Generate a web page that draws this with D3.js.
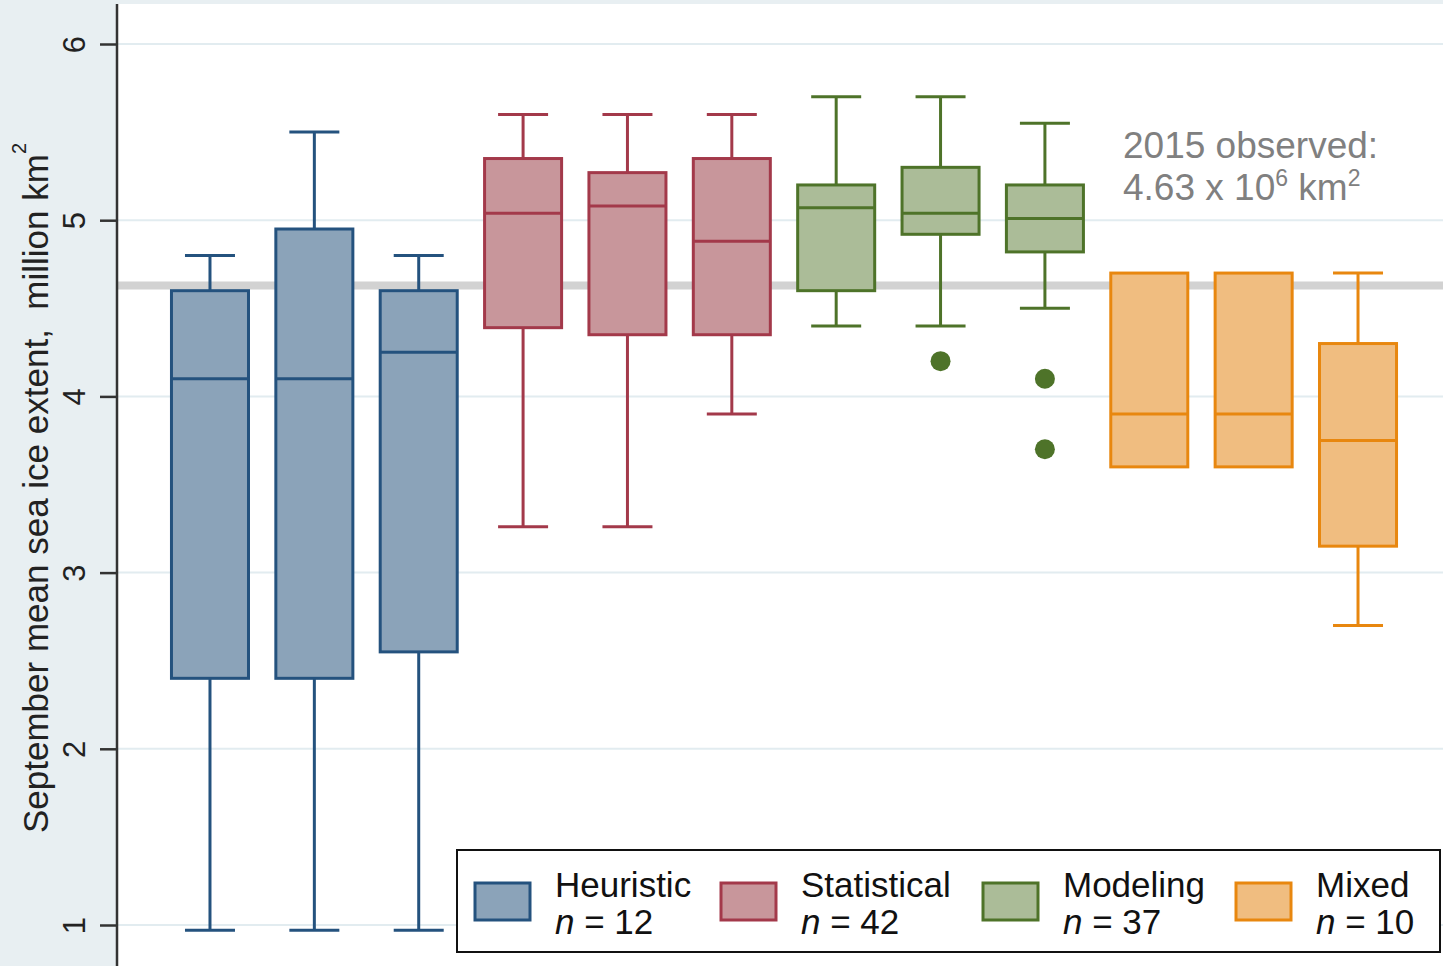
<!DOCTYPE html>
<html>
<head>
<meta charset="utf-8">
<style>
  body { margin: 0; background: #e8eff2; }
  svg { display: block; font-family: "Liberation Sans", Arial, sans-serif; }
</style>
</head>
<body>
<svg width="1443" height="966"></svg>
<script src="https://d3js.org/d3.v7.min.js"></script>
<script>
// method groups, legend counts
var methods = ["Heuristic", "Statistical", "Modeling", "Mixed"];
var methodN = [12, 42, 37, 10];
var fills = ["#8ba3b9", "#c8969b", "#abbc98", "#f0bd80"];
var strokes = ["#24527e", "#a3394a", "#4e7329", "#e8870f"];

// one entry per box (three boxes per method)
var boxMethod = [0, 0, 0, 1, 1, 1, 2, 2, 2, 3, 3, 3];
var whiskerLow  = [0.97, 0.97, 0.97, 3.26, 3.26, 3.9, 4.4, 4.4, 4.5, 3.6, 3.6, 2.7];
var q1          = [2.4, 2.4, 2.55, 4.39, 4.35, 4.35, 4.6, 4.92, 4.82, 3.6, 3.6, 3.15];
var median      = [4.1, 4.1, 4.25, 5.04, 5.08, 4.88, 5.07, 5.04, 5.01, 3.9, 3.9, 3.75];
var q3          = [4.6, 4.95, 4.6, 5.35, 5.27, 5.35, 5.2, 5.3, 5.2, 4.7, 4.7, 4.3];
var whiskerHigh = [4.8, 5.5, 4.8, 5.6, 5.6, 5.6, 5.7, 5.7, 5.55, 4.7, 4.7, 4.7];
var outlierBox  = [7, 8, 8];
var outlierVal  = [4.2, 4.1, 3.7];

var yTicks = [1, 2, 3, 4, 5, 6];
var observed = 4.63;

var svg = d3.select("svg");

var y = d3.scaleLinear().domain([1, 6]).range([925, 44]);
var x = d3.scaleBand()
    .domain(d3.range(boxMethod.length))
    .range([157.8, 1410.2])
    .paddingInner(0.262)
    .paddingOuter(0.131);

// plot background
svg.append("rect").attr("x", 117).attr("y", 4).attr("width", 1326).attr("height", 962)
    .attr("fill", "#fff");

// grid
svg.append("g").selectAll("line").data(yTicks).join("line")
    .attr("x1", 117).attr("x2", 1443)
    .attr("y1", d => y(d)).attr("y2", d => y(d))
    .attr("stroke", "#e2ecf0").attr("stroke-width", 2);

// observed line
svg.append("line")
    .attr("x1", 117).attr("x2", 1443)
    .attr("y1", y(observed)).attr("y2", y(observed))
    .attr("stroke", "#d2d2d2").attr("stroke-width", 8);

// y axis
var axis = svg.append("g").attr("transform", "translate(117,0)")
    .call(d3.axisLeft(y).tickValues(yTicks).tickSize(17).tickPadding(0).tickFormat(d3.format("d")));
axis.select(".domain").attr("d", "M0,4V966").attr("stroke", "#333").attr("stroke-width", 2.5);
axis.selectAll(".tick line").attr("stroke", "#333").attr("stroke-width", 2.5);
axis.selectAll(".tick text")
    .attr("x", null).attr("dy", null)
    .attr("transform", "translate(-32,0) rotate(-90)")
    .attr("text-anchor", "middle")
    .attr("font-size", 31).attr("fill", "#222")
    .attr("font-family", "Liberation Sans, Arial, sans-serif");

// y label
var yl = svg.append("text")
    .attr("transform", "translate(48,488) rotate(-90)")
    .attr("text-anchor", "middle")
    .attr("font-size", 35).attr("fill", "#222")
    .style("white-space", "pre");
yl.append("tspan").text("September mean sea ice extent,  million km");
yl.append("tspan").attr("font-size", 20).attr("dy", -22).text("2");

// boxes
var capW = 50;
var boxes = svg.append("g").selectAll("g").data(boxMethod).join("g");
boxes.each(function (m, i) {
  var g = d3.select(this);
  var cx = x(i) + x.bandwidth() / 2;
  var col = strokes[m];
  if (whiskerHigh[i] > q3[i]) {
    g.append("line").attr("x1", cx).attr("x2", cx).attr("y1", y(q3[i])).attr("y2", y(whiskerHigh[i]))
      .attr("stroke", col).attr("stroke-width", 3);
    g.append("line").attr("x1", cx - capW / 2).attr("x2", cx + capW / 2)
      .attr("y1", y(whiskerHigh[i])).attr("y2", y(whiskerHigh[i]))
      .attr("stroke", col).attr("stroke-width", 3);
  }
  if (whiskerLow[i] < q1[i]) {
    g.append("line").attr("x1", cx).attr("x2", cx).attr("y1", y(q1[i])).attr("y2", y(whiskerLow[i]))
      .attr("stroke", col).attr("stroke-width", 3);
    g.append("line").attr("x1", cx - capW / 2).attr("x2", cx + capW / 2)
      .attr("y1", y(whiskerLow[i])).attr("y2", y(whiskerLow[i]))
      .attr("stroke", col).attr("stroke-width", 3);
  }
  g.append("rect").attr("x", x(i)).attr("width", x.bandwidth())
    .attr("y", y(q3[i])).attr("height", y(q1[i]) - y(q3[i]))
    .attr("fill", fills[m]).attr("stroke", col).attr("stroke-width", 3);
  g.append("line").attr("x1", x(i)).attr("x2", x(i) + x.bandwidth())
    .attr("y1", y(median[i])).attr("y2", y(median[i]))
    .attr("stroke", col).attr("stroke-width", 3);
});

// outliers
svg.append("g").selectAll("circle").data(outlierVal).join("circle")
    .attr("cx", (d, i) => x(outlierBox[i]) + x.bandwidth() / 2)
    .attr("cy", d => y(d))
    .attr("r", 10)
    .attr("fill", (d, i) => strokes[boxMethod[outlierBox[i]]]);

// annotation
var ann = svg.append("g").attr("fill", "#808080").attr("font-size", 37);
ann.append("text").attr("x", 1123).attr("y", 158).text("2015 observed:");
var t2 = ann.append("text").attr("x", 1123).attr("y", 200);
t2.append("tspan").text("4.63 x 10");
t2.append("tspan").attr("font-size", 23).attr("dy", -14).text("6");
t2.append("tspan").attr("dy", 14).text(" km");
t2.append("tspan").attr("font-size", 23).attr("dy", -14).text("2");

// legend
var leg = svg.append("g");
leg.append("rect").attr("x", 457).attr("y", 850).attr("width", 983).attr("height", 102)
    .attr("fill", "#fff").attr("stroke", "#111").attr("stroke-width", 2);
var legX = [475, 721, 983, 1236];
var items = leg.selectAll("g.item").data(methods).join("g").attr("class", "item")
    .attr("transform", (d, i) => "translate(" + legX[i] + ",0)");
items.append("rect").attr("x", 0).attr("y", 883).attr("width", 55).attr("height", 37)
    .attr("fill", (d, i) => fills[i]).attr("stroke", (d, i) => strokes[i]).attr("stroke-width", 3);
items.append("text").attr("x", 80).attr("y", 897).attr("font-size", 35).attr("fill", "#111")
    .text(d => d);
var nt = items.append("text").attr("x", 80).attr("y", 934).attr("font-size", 35).attr("fill", "#111");
nt.append("tspan").attr("font-style", "italic").text("n");
nt.append("tspan").text((d, i) => " = " + methodN[i]);
</script>
</body>
</html>
